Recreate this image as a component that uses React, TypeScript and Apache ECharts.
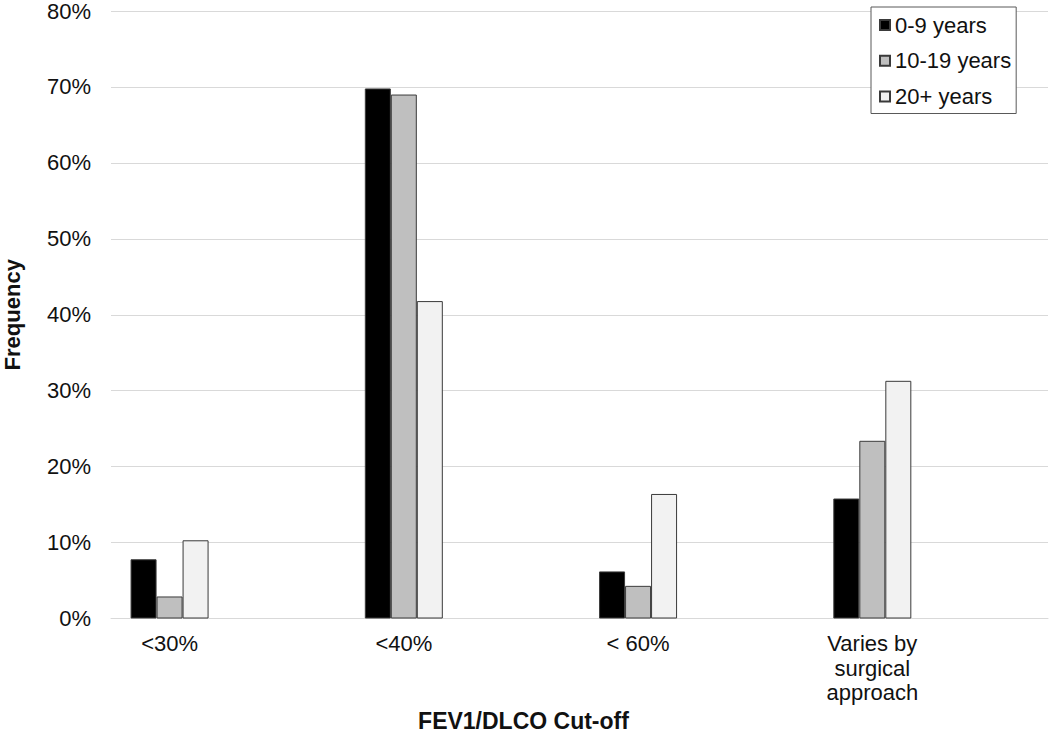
import React, { useEffect, useRef } from "react";
import * as echarts from "echarts";

const categories = ["<30%", "<40%", "< 60%", "Varies by\nsurgical\napproach"];
const seriesNames = ["0-9 years", "10-19 years", "20+ years"];
const age0to9 = [7.8, 69.8, 6.2, 15.8];
const age10to19 = [2.9, 69.0, 4.3, 23.4];
const age20plus = [10.3, 41.8, 16.4, 31.3];
const yTicks = [0, 10, 20, 30, 40, 50, 60, 70, 80];

const fills = ["#000000", "#bfbfbf", "#f2f2f2"];
const FONT = "'Liberation Sans', Arial, Helvetica, sans-serif";

// Each category sits in the first half of a double-width slot (as in the source chart)
const slotCats: string[] = [];
categories.forEach((c) => {
  slotCats.push(c);
  slotCats.push("");
});
const spread = (vals: number[]) => {
  const out: (number | string)[] = [];
  vals.forEach((v) => {
    out.push(v);
    out.push("-");
  });
  return out;
};

export default function App() {
  const ref = useRef<HTMLDivElement>(null);
  useEffect(() => {
    if (!ref.current) return;
    const chart = echarts.init(ref.current, null, { renderer: "svg" });
    const allSeries = [age0to9, age10to19, age20plus];
    chart.setOption({
      animation: false,
      backgroundColor: "#ffffff",
      textStyle: { fontFamily: FONT },
      grid: {
        left: 111,
        right: 2,
        top: 11,
        bottom: 114.5,
        containLabel: false,
        outerBoundsMode: "none",
      },
      legend: {
        orient: "vertical",
        left: 871,
        top: 7,
        padding: [7, 5, 6, 8],
        itemWidth: 10,
        itemHeight: 10,
        itemGap: 13.75,
        borderColor: "#595959",
        borderWidth: 1,
        backgroundColor: "#ffffff",
        icon: "rect",
        textStyle: { fontFamily: FONT, fontSize: 22, lineHeight: 22, color: "#111" },
        data: seriesNames,
      },
      xAxis: {
        type: "category",
        data: slotCats,
        boundaryGap: true,
        name: "FEV1/DLCO Cut-off",
        nameLocation: "middle",
        nameGap: 88.5,
        nameTextStyle: {
          fontFamily: FONT,
          fontWeight: "bold",
          fontSize: 23,
          lineHeight: 22,
          color: "#111",
          padding: [0, 112, 0, 0],
        },
        axisLine: { show: true, lineStyle: { color: "#d9d9d9", width: 1 } },
        axisTick: { show: false },
        axisLabel: {
          interval: 0,
          fontFamily: FONT,
          fontSize: 22,
          lineHeight: 24.5,
          color: "#111",
          margin: 13,
        },
        splitLine: { show: false },
      },
      yAxis: {
        type: "value",
        min: yTicks[0],
        max: yTicks[yTicks.length - 1],
        interval: 10,
        name: "Frequency",
        nameLocation: "middle",
        nameGap: 88,
        nameTextStyle: { fontFamily: FONT, fontWeight: "bold", fontSize: 22, color: "#111" },
        axisLine: { show: false },
        axisTick: { show: false },
        axisLabel: {
          formatter: "{value}%",
          fontFamily: FONT,
          fontSize: 22,
          lineHeight: 22,
          color: "#111",
          margin: 20,
        },
        splitLine: { show: true, lineStyle: { color: "#d9d9d9", width: 1 } },
      },
      series: allSeries.map((vals, i) => ({
        name: seriesNames[i],
        type: "bar",
        data: spread(vals),
        barWidth: 26,
        barGap: "0%",
        itemStyle: {
          color: fills[i],
          borderColor: "#3a3a3a",
          borderWidth: 1,
        },
        emphasis: { disabled: true },
      })),
    });
    return () => chart.dispose();
  }, []);
  return (
    <div
      ref={ref}
      style={{ position: "fixed", left: 0, top: 0, width: 1050, height: 733 }}
    />
  );
}
